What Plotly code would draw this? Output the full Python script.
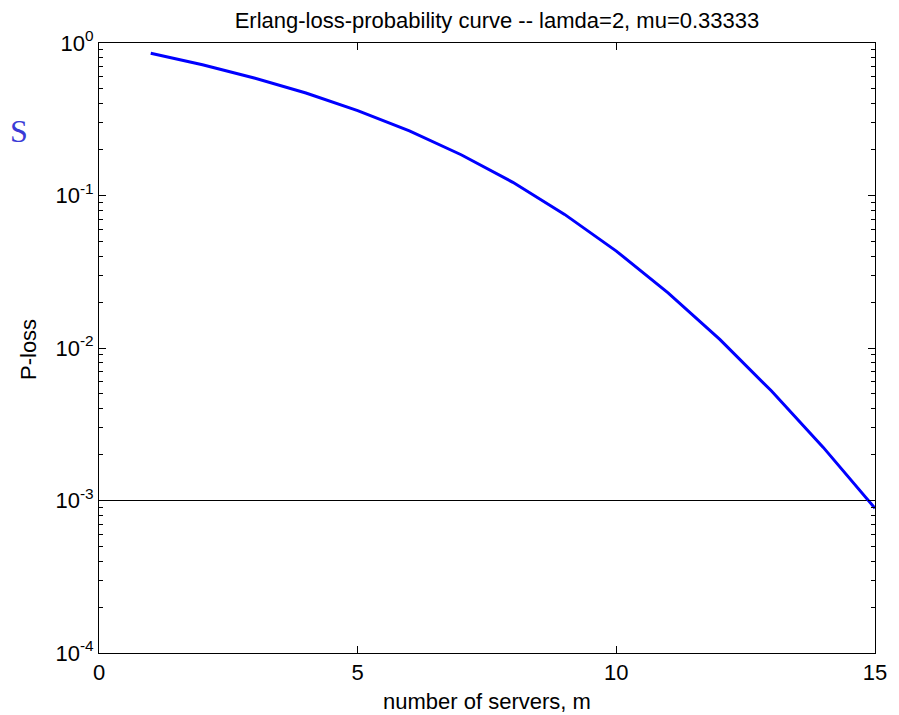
import plotly.graph_objects as go

servers = list(range(1, 16))
p_loss = [0.857, 0.720, 0.590, 0.470, 0.360, 0.265, 0.185, 0.122, 0.0752,
          0.0432, 0.0230, 0.0114, 0.00522, 0.00223, 0.00089]
threshold = 1e-3
x_ticks = [0, 5, 10, 15]
y_tickvals = [1e-4, 1e-3, 1e-2, 1e-1, 1e0]
y_ticktext = ["10<sup>-4</sup>", "10<sup>-3</sup>", "10<sup>-2</sup>", "10<sup>-1</sup>", "10<sup>0</sup>"]
y_minor = [k * 10.0 ** e for e in range(-4, 0) for k in range(2, 10)]

FONT = "Liberation Sans, Arial"
W, H = 891, 707
L, R, T, B = 91, 24, 35, 62

fig = go.Figure()
fig.add_trace(go.Scatter(x=[0, 15], y=[threshold, threshold], mode="lines",
                         line=dict(color="black", width=1), showlegend=False,
                         hoverinfo="skip"))
fig.add_trace(go.Scatter(x=servers, y=p_loss, mode="lines",
                         line=dict(color="#0000ff", width=3), showlegend=False))

axis_common = dict(showgrid=False, zeroline=False, showline=True, linecolor="black",
                   linewidth=1, mirror="ticks", ticks="inside", tickcolor="black",
                   ticklen=7, tickfont=dict(family=FONT, size=22, color="black"))

fig.update_xaxes(range=[0, 15], tickvals=x_ticks, **axis_common)
fig.update_yaxes(type="log", range=[-4, 0], tickvals=y_tickvals, ticktext=y_ticktext,
                 **axis_common,
                 minor=dict(tickmode="array", tickvals=y_minor, ticks="inside", ticklen=4,
                            tickcolor="black", showgrid=False))

pw = W - L - R
ph = H - T - B
fig.update_layout(
    width=W, height=H,
    margin=dict(l=L, r=R, t=T, b=B),
    paper_bgcolor="white", plot_bgcolor="white",
    title=dict(text="Erlang-loss-probability curve -- lamda=2, mu=0.33333",
               x=489 / W, xanchor="center", y=1 - 12 / H, yanchor="middle",
               font=dict(family=FONT, size=22, color="black")),
    annotations=[
        dict(text="number of servers, m", xref="paper", yref="paper",
             x=0.5, y=-(694 - (H - B)) / ph, xanchor="center", yanchor="middle",
             showarrow=False, font=dict(family=FONT, size=22, color="black")),
        dict(text="P-loss", xref="paper", yref="paper", textangle=-90,
             x=(20 - L) / pw, y=1 - (342 - T) / ph, xanchor="center", yanchor="middle",
             showarrow=False, font=dict(family=FONT, size=22, color="black")),
        dict(text="S", xref="paper", yref="paper", x=(0 - L) / pw, y=1 - (123 - T) / ph,
             xanchor="left", yanchor="middle", showarrow=False,
             font=dict(family="Liberation Serif, Times New Roman", size=32, color="#3a3ad6")),
    ],
)

fig.write_html("out.html")
